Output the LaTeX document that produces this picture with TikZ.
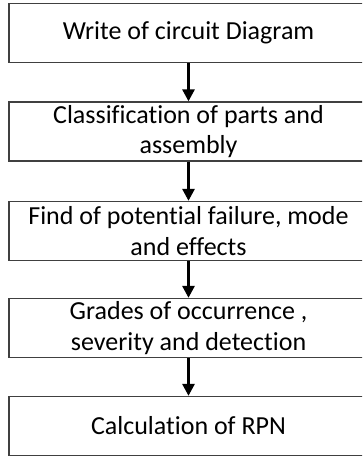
\documentclass[tikz,border=0pt]{standalone}
\usepackage{fontspec}
\setmainfont{Carlito}[Ligatures=NoCommon]
\usetikzlibrary{arrows.meta}
\begin{document}
\begin{tikzpicture}[x=1pt,y=-1pt,
  box/.style={draw=black!75, line width=1.3pt, minimum width=359pt, minimum height=59pt, inner sep=0pt, align=center, font=\fontsize{26}{30.5}\selectfont, text=black},
  flow/.style={line width=2.8pt, -{Triangle[width=12pt,length=12pt]}}]
\useasboundingbox (0,0) rectangle (362,457);
\clip (0,0) rectangle (362,457);
\node[box] (b1) at (188.5,33) {Write of circuit Diagram};
\node[box] (b2) at (188.5,131.5) {Classification of parts and\\assembly};
\node[box] (b3) at (188.5,231) {Find of potential failure, mode\\and effects};
\node[box] (b4) at (188.5,328) {Grades of occurrence ,\\severity and detection};
\node[box] (b5) at (188.5,426) {Calculation of RPN};
\draw[flow] (b1.south) -- (b2.north);
\draw[flow] (b2.south) -- (b3.north);
\draw[flow] (b3.south) -- (b4.north);
\draw[flow] (b4.south) -- (b5.north);
\end{tikzpicture}
\end{document}
